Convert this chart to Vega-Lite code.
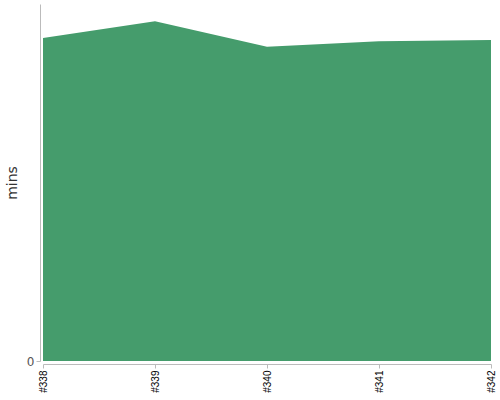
{
  "$schema": "https://vega.github.io/schema/vega-lite/v6.json",
  "width": 448,
  "height": 357,
  "autosize": "none",
  "padding": {"left": 43, "top": 4, "right": 9, "bottom": 39},
  "data": {
    "values": [
      {"build": "#338", "mins": 90.5},
      {"build": "#339", "mins": 95.2},
      {"build": "#340", "mins": 88.0},
      {"build": "#341", "mins": 89.6},
      {"build": "#342", "mins": 89.9}
    ]
  },
  "config": {
    "view": {"stroke": null},
    "axis": {
      "domainColor": "#bbbbbb",
      "tickColor": "#bbbbbb",
      "grid": false,
      "labelFont": "DejaVu Sans",
      "titleFont": "DejaVu Sans"
    }
  },
  "mark": {"type": "area", "color": "#459c6c", "interpolate": "linear"},
  "encoding": {
    "x": {
      "field": "build",
      "type": "ordinal",
      "scale": {"type": "point", "padding": 0},
      "axis": {
        "title": null,
        "offset": 3,
        "labelAngle": -90,
        "labelFont": "Liberation Sans",
        "labelFontSize": 10,
        "labelColor": "#000000",
        "tickSize": 4,
        "labelPadding": 2
      }
    },
    "y": {
      "field": "mins",
      "type": "quantitative",
      "scale": {"domain": [0, 100], "nice": false},
      "axis": {
        "title": "mins",
        "values": [0],
        "offset": 3,
        "tickSize": 4,
        "labelFontSize": 12,
        "labelColor": "#555555",
        "titleFontSize": 14,
        "titleFontWeight": "normal",
        "titleColor": "#333333",
        "titlePadding": 7
      }
    }
  }
}
